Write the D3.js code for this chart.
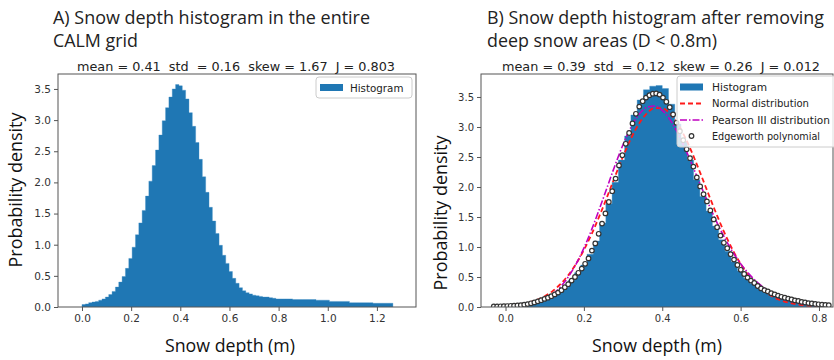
<!DOCTYPE html>
<html><head><meta charset="utf-8">
<script src="https://cdn.jsdelivr.net/npm/d3@7"></script>
<style>
html,body{margin:0;padding:0;background:#fff;}
svg{display:block;}
text{white-space:pre;}
</style></head>
<body>
<svg id="chart" width="834" height="360"></svg>
<script>
// ---------- DATA ----------
// Panel A histogram (bins from 0.0 to 1.265)
const histA_start = 0.0;
const histA_end = 1.265;
const histA_values = [
  0.04,0.05,0.07,0.08,0.09,0.11,0.13,
  0.16,0.20,0.25,0.32,0.40,0.49,0.62,
  0.78,0.96,1.16,1.35,1.55,1.78,2.02,
  2.27,2.52,2.76,2.99,3.20,3.37,3.50,
  3.57,3.55,3.48,3.34,3.12,2.90,2.64,
  2.37,2.09,1.84,1.60,1.38,1.18,0.99,
  0.83,0.70,0.57,0.46,0.38,0.31,0.26,
  0.23,0.21,0.19,0.18,0.17,0.16,0.16,0.15,0.14,
  0.13,0.13,0.13,0.13,0.13,
  0.12,0.12,0.12,0.12,0.12,0.12,0.12,
  0.11,0.11,0.11,0.11,
  0.09,0.09,0.09,0.09,0.09,0.09,
  0.07,0.07,0.07,0.07,0.07,0.07,0.07,
  0.06,0.06,0.06,0.06,0.06,0.06
];
// Panel B histogram (bins from 0.0 to 0.8)
const histB_start = 0.0;
const histB_end = 0.8;
const histB_values = [
  0.01,0.015,0.025,0.04,0.06,0.09,0.13,0.18,0.25,0.33,
  0.44,0.57,0.70,0.88,1.10,1.40,1.72,2.08,2.45,2.85,
  3.20,3.45,3.62,3.68,3.69,3.64,3.38,3.05,2.75,2.45,
  2.12,1.84,1.60,1.35,1.12,0.93,0.75,0.60,0.48,0.39,
  0.32,0.26,0.21,0.17,0.14,0.12,0.10,0.09,0.08,0.05
];
// Fitted curves in panel B, sampled at x = 0.00, 0.02, ... 0.80
const curveX = [0.00,0.02,0.04,0.06,0.08,0.10,0.12,0.14,0.16,0.18,0.20,0.22,0.24,0.26,0.28,0.30,0.32,0.34,0.36,0.38,0.40,
  0.42,0.44,0.46,0.48,0.50,0.52,0.54,0.56,0.58,0.60,0.62,0.64,0.66,0.68,0.70,0.72,0.74,0.76,0.78,0.80];
const normalY = [0.017,0.029,0.047,0.076,0.118,0.179,0.265,0.380,0.530,0.719,0.949,1.219,1.522,1.848,2.184,2.509,2.805,3.048,3.222,3.313,3.313,
  3.222,3.048,2.805,2.509,2.184,1.848,1.522,1.219,0.949,0.719,0.530,0.380,0.265,0.179,0.118,0.076,0.047,0.029,0.017,0.010];
const pearsonY = [0.005,0.010,0.020,0.040,0.072,0.126,0.212,0.334,0.500,0.716,0.981,1.293,1.641,2.006,2.371,2.708,2.993,3.203,3.325,3.349,3.277,
  3.119,2.893,2.617,2.311,1.996,1.689,1.403,1.145,0.917,0.723,0.560,0.426,0.318,0.232,0.166,0.117,0.080,0.054,0.035,0.022];
// Edgeworth polynomial points, x from -0.03 to 0.825
const edgeStart = -0.03;
const edgeEnd = 0.825;
const edgeY = [
  0.010,0.010,0.012,0.014,0.016,0.020,0.022,0.025,0.030,0.038,
  0.048,0.062,0.077,0.094,0.113,0.135,0.155,0.180,0.210,0.240,
  0.280,0.330,0.380,0.440,0.500,0.570,0.640,0.720,0.810,0.940,
  1.060,1.220,1.390,1.560,1.750,1.930,2.140,2.360,2.530,2.720,
  2.900,3.060,3.220,3.340,3.430,3.490,3.530,3.555,3.560,3.540,
  3.490,3.420,3.330,3.210,3.070,2.930,2.780,2.630,2.480,2.340,
  2.160,2.010,1.880,1.760,1.610,1.460,1.330,1.190,1.070,0.980,
  0.880,0.790,0.700,0.620,0.550,0.490,0.440,0.400,0.350,0.310,
  0.280,0.260,0.230,0.210,0.190,0.170,0.155,0.140,0.125,0.110,
  0.100,0.085,0.075,0.065,0.058,0.050,0.045,0.040,0.035,0.030
];
const xTicksA = [0.0,0.2,0.4,0.6,0.8,1.0,1.2];
const xTicksB = [0.0,0.2,0.4,0.6,0.8];
const yTicks = [0.0,0.5,1.0,1.5,2.0,2.5,3.0,3.5];
const titleA = ["A) Snow depth histogram in the entire", "CALM grid"];
const titleB = ["B) Snow depth histogram after removing", "deep snow areas (D < 0.8m)"];
const statsA = "mean = 0.41  std  = 0.16  skew = 1.67  J = 0.803";
const statsB = "mean = 0.39  std  = 0.12  skew = 0.26  J = 0.012";
const legendB = ["Histogram","Normal distribution","Pearson III distribution","Edgeworth polynomial"];

// ---------- DRAW ----------
const svg = d3.select("#chart");
const BLUE = "#1f77b4";
const TICKFONT = "'DejaVu Sans', sans-serif";
const BIGFONT = "'Open Sans', 'Noto Sans', sans-serif";

function makePanel(o){
  const g = svg.append("g");
  const x = d3.scaleLinear().domain(o.xdom).range([o.left, o.right]);
  const y = d3.scaleLinear().domain(o.ydom).range([o.bottom, o.top]);
  const clipId = "clip" + o.id;
  svg.append("clipPath").attr("id", clipId).append("rect")
    .attr("x", o.left).attr("y", o.top).attr("width", o.right-o.left).attr("height", o.bottom-o.top);
  const plot = g.append("g").attr("clip-path", `url(#${clipId})`);
  // histogram as a stepped area
  const n = o.hist.length;
  const w = (o.hEnd - o.hStart)/n;
  const steps = o.hist.map((v,i)=>({x0:o.hStart + i*w, v}));
  steps.push({x0:o.hEnd, v:o.hist[n-1]});
  const area = d3.area().x(d=>x(d.x0)).y0(y(0)).y1(d=>y(d.v)).curve(d3.curveStepAfter);
  plot.append("path").datum(steps).attr("d", area).attr("fill", BLUE)
    .attr("stroke", "#3b8bc4").attr("stroke-width", 0.6).attr("stroke-opacity", 0.6);
  // axes
  const xa = g.append("g").attr("transform", `translate(0,${o.bottom})`)
    .call(d3.axisBottom(x).tickValues(o.xticks).tickFormat(d3.format(".1f")).tickSize(4).tickPadding(4));
  const ya = g.append("g").attr("transform", `translate(${o.left},0)`)
    .call(d3.axisLeft(y).tickValues(yTicks).tickFormat(d3.format(".1f")).tickSize(4).tickPadding(3));
  [xa, ya].forEach(a=>{
    a.select(".domain").remove();
    a.selectAll("line").attr("stroke","#555");
    a.selectAll("text").attr("font-family", TICKFONT).attr("font-size", o.tickSize).attr("fill","#333");
  });
  // frame
  g.append("rect").attr("x", o.left).attr("y", o.top).attr("width", o.right-o.left).attr("height", o.bottom-o.top)
    .attr("fill","none").attr("stroke","#555").attr("stroke-width",1);
  // titles
  o.title.forEach((t,i)=>{
    g.append("text").attr("x", o.titleX).attr("y", 24 + i*23)
      .attr("font-family", BIGFONT).attr("font-size", 18).attr("fill","#222")
      .attr("textLength", o.titleLen[i]).attr("lengthAdjust","spacingAndGlyphs").text(t);
  });
  g.append("text").attr("x", o.statsX).attr("y", 71)
    .attr("font-family", TICKFONT).attr("font-size", 12).attr("fill","#222")
    .attr("textLength", 318).attr("lengthAdjust","spacingAndGlyphs").text(o.stats);
  g.append("text").attr("transform", `translate(${o.ylabX},${o.ylabY}) rotate(-90)`)
    .attr("text-anchor","middle").attr("font-family", BIGFONT).attr("font-size", 19).attr("fill","#111")
    .attr("textLength", 155).attr("lengthAdjust","spacingAndGlyphs").text("Probability density");
  g.append("text").attr("x", o.xlabX).attr("y", 352)
    .attr("text-anchor","middle").attr("font-family", BIGFONT).attr("font-size", 19).attr("fill","#111")
    .attr("textLength", 130).attr("lengthAdjust","spacingAndGlyphs").text("Snow depth (m)");
  return {g, x, y, plot};
}

// Panel A
const A = makePanel({id:"A", left:58, right:416, top:74, bottom:307,
  xdom:[-0.0976, 1.359], ydom:[0, 3.74], hist:histA_values, hStart:histA_start, hEnd:histA_end,
  xticks:xTicksA, tickSize:10.5, title:titleA, titleX:53, titleLen:[317,85], stats:statsA, statsX:77,
  ylabX:22, ylabY:190, xlabX:230});
// legend A
const lgA = A.g.append("g");
lgA.append("rect").attr("x",316).attr("y",77).attr("width",96).attr("height",21).attr("rx",3)
  .attr("fill","#fff").attr("fill-opacity",0.8).attr("stroke","#ccc");
lgA.append("rect").attr("x",320).attr("y",84).attr("width",23).attr("height",7).attr("fill",BLUE);
lgA.append("text").attr("x",350).attr("y",91.5).attr("font-family",TICKFONT).attr("font-size",10.3)
  .attr("fill","#222").text("Histogram");

// Panel B
const B = makePanel({id:"B", left:481, right:833, top:74, bottom:307,
  xdom:[-0.0626, 0.8358], ydom:[0, 3.883], hist:histB_values, hStart:histB_start, hEnd:histB_end,
  xticks:xTicksB, tickSize:10, title:titleB, titleX:487, titleLen:[337,230], stats:statsB, statsX:502,
  ylabX:447, ylabY:213, xlabX:657});

const line = d3.line().x((d,i)=>B.x(curveX[i])).y(d=>B.y(d)).curve(d3.curveMonotoneX);
B.plot.append("path").datum(normalY).attr("d", line).attr("fill","none")
  .attr("stroke","#ff1a1a").attr("stroke-width",1.8).attr("stroke-dasharray","5,3");
B.plot.append("path").datum(pearsonY).attr("d", line).attr("fill","none")
  .attr("stroke","#c000c0").attr("stroke-width",1.6).attr("stroke-dasharray","7,2,1.5,2");
const edgeStep = (edgeEnd - edgeStart)/(edgeY.length-1);
B.plot.selectAll("circle.edge").data(edgeY).join("circle").attr("class","edge")
  .attr("cx",(d,i)=>B.x(edgeStart + i*edgeStep)).attr("cy", d=>B.y(d)).attr("r",2.3)
  .attr("fill","#fff").attr("stroke","#333").attr("stroke-width",1.2);

// legend B
const lgB = B.g.append("g");
lgB.append("rect").attr("x",677).attr("y",76).attr("width",160).attr("height",71).attr("rx",3)
  .attr("fill","#fff").attr("fill-opacity",0.8).attr("stroke","#ccc");
const ly = [87, 103.5, 120, 136];
lgB.append("rect").attr("x",680).attr("y",ly[0]-3.5).attr("width",23).attr("height",7).attr("fill",BLUE);
lgB.append("line").attr("x1",680).attr("x2",703).attr("y1",ly[1]).attr("y2",ly[1])
  .attr("stroke","#ff1a1a").attr("stroke-width",1.8).attr("stroke-dasharray","5,3");
lgB.append("line").attr("x1",680).attr("x2",703).attr("y1",ly[2]).attr("y2",ly[2])
  .attr("stroke","#c000c0").attr("stroke-width",1.6).attr("stroke-dasharray","7,2,1.5,2");
lgB.append("circle").attr("cx",691.5).attr("cy",ly[3]).attr("r",2.3)
  .attr("fill","#fff").attr("stroke","#333").attr("stroke-width",1.2);
const legLens = [55, 97, 118, 108];
legendB.forEach((t,i)=>{
  lgB.append("text").attr("x",712).attr("y",ly[i]+3.7).attr("font-family",TICKFONT).attr("font-size",10.5)
    .attr("fill","#222").attr("textLength", legLens[i]).attr("lengthAdjust","spacingAndGlyphs").text(t);
});
</script>
</body></html>
